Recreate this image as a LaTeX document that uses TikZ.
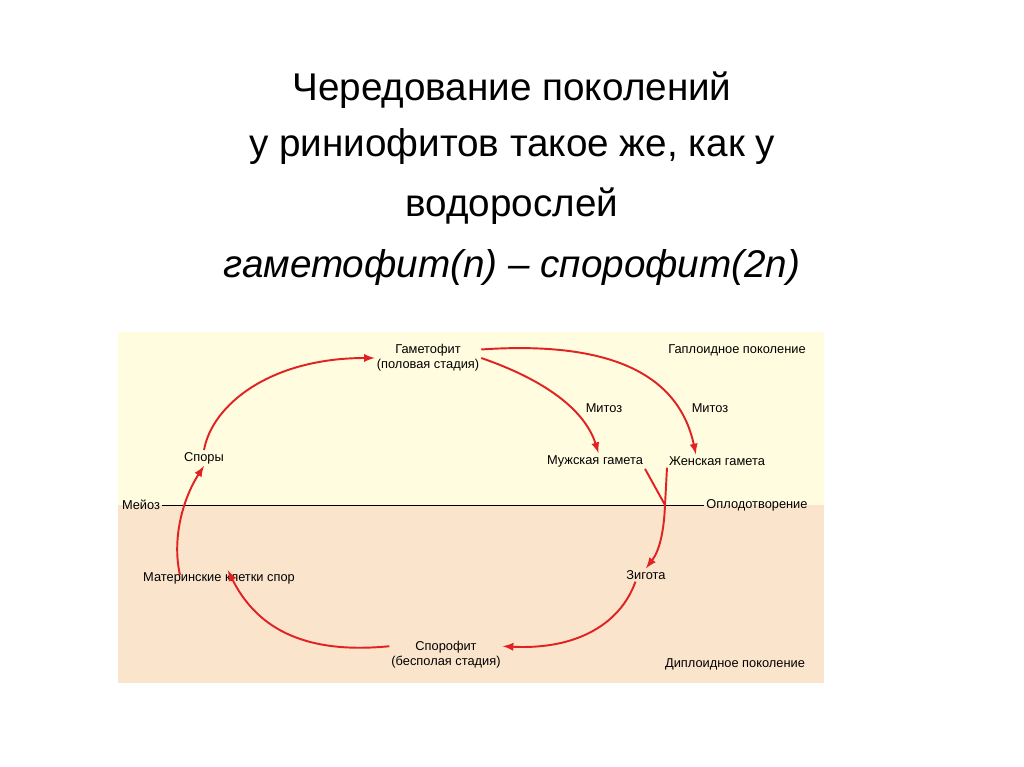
\documentclass[tikz,border=0pt]{standalone}
\usepackage{fontspec}
\setmainfont{Liberation Sans}
\usetikzlibrary{positioning}
\definecolor{haplo}{HTML}{FFFCDF}
\definecolor{diplo}{HTML}{FAE4CC}
\definecolor{cyc}{HTML}{E02222}
\tikzset{lbl/.style={font=\fontsize{7.3}{8.5}\selectfont,inner sep=1pt,align=center},
  ttl/.style={font=\fontsize{22}{26}\selectfont,inner sep=0pt},
  cycarrow/.style={cyc,line width=1.1pt,->,>=latex},
  gamline/.style={cyc,line width=1.1pt}}

\begin{document}
\begin{tikzpicture}[x=0.02cm,y=-0.02cm]
    \useasboundingbox (0,0) rectangle (1024,767);
    \fill[white] (0,0) rectangle (1024,767);
    \fill[haplo] (118,332) rectangle (824,505);
    \fill[diplo] (118,505) rectangle (824,683);

    \node[ttl] (t1) at (512,90) {Чередование поколений};
    \node[ttl] (t2) at (512,147) {у риниофитов такое же, как у};
    \node[ttl] (t3) at (512,206) {водорослей};
    \node[ttl,font=\fontsize{22}{26}\selectfont\itshape] (t4) at (512,268) {гаметофит(n) – спорофит(2n)};

    \node[lbl] (gam) at (428,358) {Гаметофит\\(половая стадия)};
    \node[lbl] (hap) at (737,350) {Гаплоидное поколение};
    \node[lbl] (mit1) at (604,408) {Митоз};
    \node[lbl] (mit2) at (710,408) {Митоз};
    \node[lbl] (male) at (595,461) {Мужская гамета};
    \node[lbl] (fem) at (717,461) {Женская гамета};
    \node[lbl] (spory) at (204,458) {Споры};
    \node[lbl] (meioz) at (141,505) {Мейоз};
    \node[lbl] (opl) at (757,505) {Оплодотворение};
    \node[lbl] (mat) at (219,578) {Материнские клетки спор};
    \node[lbl] (zig) at (646,575) {Зигота};
    \node[lbl] (sporo) at (446,655) {Спорофит\\(бесполая стадия)};
    \node[lbl] (dip) at (735,664) {Диплоидное поколение};
    \coordinate (fert) at (665,505);

    \draw (meioz.east) -- (opl.west);
    \draw[gamline] (male.south east) -- (fert);
    \draw[gamline] (fem.south west) -- (fert);

    \draw[cycarrow] (spory.north) .. controls (212,405) and (270,358) .. (gam.west);
    \draw[cycarrow] (gam.east) .. controls (545,380) and (585,410) .. ([xshift=2]male.north);
    \draw[cycarrow] ([yshift=-4]gam.north east) .. controls (620,340) and (680,380) .. ([xshift=-12]fem.north);
    \draw[cycarrow] (fert) .. controls (664,530) and (660,550) .. (zig.north);
    \draw[cycarrow] ([xshift=-6]zig.south) .. controls (620,625) and (575,650) .. ([yshift=5]sporo.east);
    \draw[cycarrow] ([yshift=5]sporo.west) .. controls (300,655) and (255,625) .. ([xshift=5]mat.north);
    \draw[cycarrow] (180,575) .. controls (172,540) and (182,500) .. (spory.south);
\end{tikzpicture}
\end{document}
